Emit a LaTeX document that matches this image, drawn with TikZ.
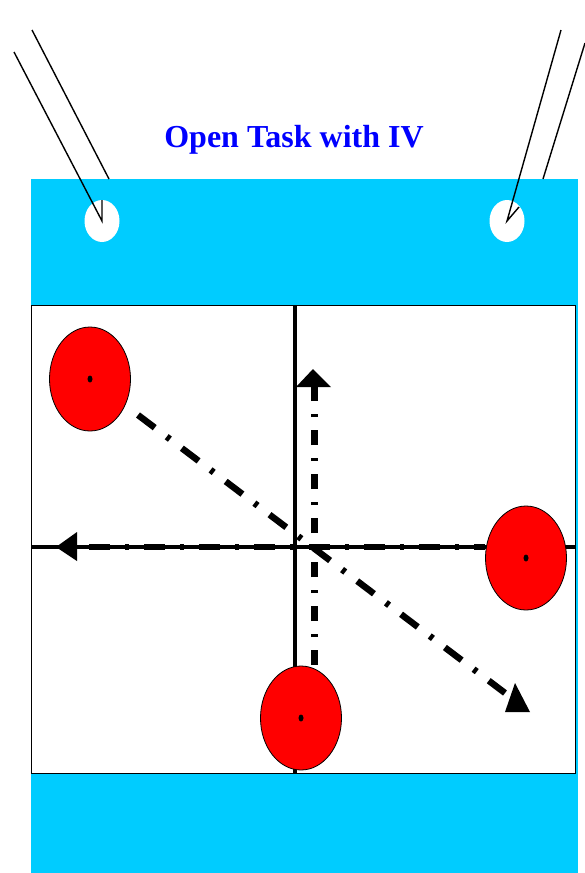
\documentclass[tikz,border=0pt]{standalone}
\usepackage{fontspec}
\setmainfont{Liberation Serif}
\usetikzlibrary{shapes.geometric}
\definecolor{panelcyan}{RGB}{0,204,255}
\definecolor{titleblue}{RGB}{0,0,255}
\begin{document}
\begin{tikzpicture}[x=1pt,y=-1pt,
  hole/.style={ellipse,fill=white,draw=none,minimum width=35pt,minimum height=42pt,inner sep=0pt},
  ball/.style={ellipse,fill=red,draw=black,line width=0.8pt,minimum width=81pt,minimum height=104pt,inner sep=0pt},
  pin/.style={ellipse,fill=black,draw=none,minimum width=5pt,minimum height=7pt,inner sep=0pt},
  wire/.style={draw=black,line width=1.4pt},
  axis/.style={draw=black,line width=3.6pt},
  trail/.style={draw=black,line width=6.5pt,dash pattern=on 21pt off 15pt on 4pt off 15pt},
  vtrail/.style={draw=black,line width=7pt,dash pattern=on 15pt off 13pt on 3pt off 13pt},
  head/.style={fill=black,draw=none}]
\useasboundingbox (0,0) rectangle (585,873);
% panels
\fill[panelcyan] (31,179) rectangle (578,873);
\draw[fill=white,line width=1pt] (31,305) rectangle (575,773);
% title
\node[anchor=base,text=titleblue,font=\bfseries\fontsize{32}{38}\selectfont,inner sep=0pt] (title) at (294,147) {Open Task with IV};
% holes
\node[hole] (hl) at (102,221) {};
\node[hole] (hr) at (507,221) {};
% wires
\coordinate (a1) at (14,52);
\coordinate (b1) at (32,30);
\coordinate (b2) at (109,179);
\coordinate (c1) at (561,30);
\coordinate (d1) at (585,43);
\coordinate (d2) at (543,179);
\coordinate (tl) at (102,200);
\coordinate (tr) at (519,207);
\draw[wire] (a1) -- (hl.center) -- (tl);
\draw[wire] (b1) -- (b2);
\draw[wire] (c1) -- (hr.center) -- (tr);
\draw[wire] (d1) -- (d2);
% axes
\coordinate (axt) at (295,305);
\coordinate (axb) at (295,773);
\coordinate (axl) at (31,547);
\coordinate (axr) at (575,547);
\draw[axis] (axt) -- (axb);
\draw[axis] (axl) -- (axr);
% trajectories
\coordinate (hs) at (485,547);
\coordinate (he) at (77,547);
\coordinate (vs) at (314,665);
\coordinate (ve) at (314,387);
\coordinate (ds) at (138,415);
\coordinate (de) at (505,693);
\draw[trail,dash phase=10pt] (hs) -- (he);
\draw[vtrail] (vs) -- (ve);
\draw[trail] (ds) -- (de);
% arrowheads
\fill[head] (56,547) -- (77,532) -- (77,561) -- cycle;
\fill[head] (313,369) -- (331,387) -- (296,387) -- cycle;
\fill[head] (515,683) -- (530,712) -- (505,712) -- cycle;
% balls
\node[ball] (b1n) at (90,379) {};
\node[ball] (b2n) at (526,558) {};
\node[ball] (b3n) at (301,718) {};
\node[pin] (p1) at (b1n.center) {};
\node[pin] (p2) at (b2n.center) {};
\node[pin] (p3) at (b3n.center) {};
\end{tikzpicture}
\end{document}
